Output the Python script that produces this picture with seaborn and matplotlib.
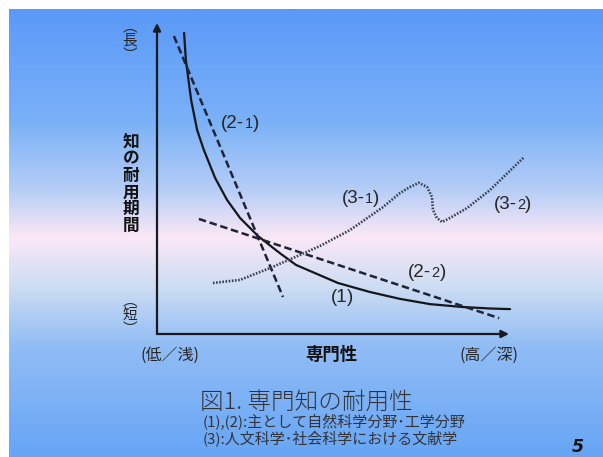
import numpy as np
import matplotlib
matplotlib.use("Agg")
import matplotlib.pyplot as plt
from matplotlib.colors import LinearSegmentedColormap
from matplotlib.offsetbox import TextArea, HPacker, AnnotationBbox
import seaborn as sns

sns.set_theme(style="white")
plt.rcParams["font.family"] = ["Noto Sans CJK JP", "DejaVu Sans"]

# (1) durability of knowledge vs. specialisation (solid curve)
curve1_x = [0.77, 0.82, 0.97, 1.14, 1.33, 1.65, 1.99, 2.36, 2.87, 3.49, 3.95,
            5.14, 6.05, 6.90, 7.76, 8.66, 9.46, 10.03]
curve1_y = [9.68, 8.81, 7.52, 6.56, 5.92, 5.02, 4.31, 3.73, 3.15, 2.60, 2.22,
            1.64, 1.35, 1.13, 0.96, 0.87, 0.82, 0.80]

# (2-1), (2-2) straight dashed approximations
line21_x = [0.48, 3.58]
line21_y = [9.58, 1.19]
line22_x = [1.19, 9.72]
line22_y = [3.70, 0.51]

# (3) humanities / social sciences (dotted curve)
curve3_x = [1.59, 2.36, 3.21, 4.06, 4.63, 5.48, 6.42, 6.90, 7.19, 7.44, 7.67,
            7.81, 7.84, 7.95, 8.10, 8.32, 8.81, 9.46, 10.11, 10.43]
curve3_y = [1.64, 1.74, 2.12, 2.54, 2.83, 3.34, 4.08, 4.53, 4.73, 4.86, 4.73,
            4.41, 3.99, 3.73, 3.60, 3.73, 4.05, 4.63, 5.34, 5.69]

# curve labels: (main text, small suffix, closing text, x, y)
curve_labels = [
    ("(2-", "1", ")", 2.36, 6.78),
    ("(3-", "1", ")", 5.77, 4.37),
    ("(3-", "2", ")", 10.11, 4.15),
    ("(2-", "2", ")", 7.67, 1.99),
    ("(1", "", ")", 5.26, 1.16),
]

y_axis_ends = ["︵\n長\n︶", "︵\n短\n︶"]
y_axis_title = "知\nの\n耐\n用\n期\n間"
x_axis_ends = ["(低／浅)", "(高／深)"]
x_axis_title = "専門性"
fig_title = "図1. 専門知の耐用性"
fig_notes = ["(1),(2):主として自然科学分野･工学分野",
             "(3):人文科学･社会科学における文献学"]
page_no = "5"

W, H = 603, 457
fig = plt.figure(figsize=(W / 100, H / 100), dpi=100)
fig.patch.set_facecolor("white")


def fx(x):
    return x / W


def fy(y):
    return 1 - y / H


# slide background gradient (blue - pale pink - blue)
bg = fig.add_axes([fx(9), 0, 1 - fx(9), 1 - 9 / H])
stops = [(0.00, (90, 153, 248)), (0.25, (122, 177, 247)),
         (0.40, (180, 205, 246)), (0.51, (251, 232, 247)),
         (0.62, (205, 221, 243)), (0.75, (146, 189, 245)),
         (1.00, (102, 165, 246))]
cmap = LinearSegmentedColormap.from_list(
    "slide", [(p, tuple(c / 255 for c in rgb)) for p, rgb in stops])
grad = np.linspace(0, 1, 512).reshape(-1, 1)
bg.imshow(grad, aspect="auto", cmap=cmap, extent=[0, 1, 0, 1],
          origin="upper", interpolation="bilinear")
bg.set_axis_off()

# plotting area: origin at (157, 334) px, unit 35.2 px in x, 31.1 px in y
x0, y0, ux, uy = 157, 334, 35.2, 31.1
xmax, ymax = 11.0, 10.3
ax = fig.add_axes([fx(x0), 1 - y0 / H, xmax * ux / W, ymax * uy / H])
ax.set_xlim(0, xmax)
ax.set_ylim(0, ymax)
ax.set_axis_off()
ax.patch.set_alpha(0)

axis_col = "#1a1a22"
for end in [(10, 0), (0, 10)]:
    ax.annotate("", xy=end, xytext=(0, 0), xycoords="data",
                arrowprops=dict(arrowstyle="-|>", lw=1.6, color=axis_col,
                                mutation_scale=11, shrinkA=0, shrinkB=0),
                annotation_clip=False)

sns.lineplot(x=curve1_x, y=curve1_y, ax=ax, sort=False, estimator=None,
             color="#15151c", lw=1.6)
sns.lineplot(x=line21_x, y=line21_y, ax=ax, sort=False, estimator=None,
             color="#1e2436", lw=1.8, linestyle=(0, (3.0, 1.5)))
sns.lineplot(x=line22_x, y=line22_y, ax=ax, sort=False, estimator=None,
             color="#1e2436", lw=1.8, linestyle=(0, (3.0, 1.5)))
sns.lineplot(x=curve3_x, y=curve3_y, ax=ax, sort=False, estimator=None,
             color="#363e4e", lw=1.9, linestyle=(0, (0.6, 0.6)))
for line in ax.lines:
    line.set_clip_on(False)

lab_col = "#262626"
lab_font = ["Liberation Sans", "DejaVu Sans"]
for main, small, close, lx, ly in curve_labels:
    parts = [TextArea(main, textprops=dict(size=13.5, color=lab_col,
                                           family=lab_font))]
    if small:
        parts.append(TextArea(small, textprops=dict(size=10.5, color=lab_col,
                                                    family=lab_font)))
    parts.append(TextArea(close, textprops=dict(size=13.5, color=lab_col,
                                                family=lab_font)))
    box = HPacker(children=parts, align="baseline", pad=0, sep=0)
    ab = AnnotationBbox(box, (lx, ly), xycoords="data", frameon=False,
                        box_alignment=(0.5, 0.5), annotation_clip=False)
    ax.add_artist(ab)

# axis annotations
fig.text(fx(130), fy(41), y_axis_ends[0], ha="center", va="center",
         fontsize=10.5, linespacing=1.0, color=lab_col)
fig.text(fx(130), fy(315), y_axis_ends[1], ha="center", va="center",
         fontsize=10.5, linespacing=1.0, color=lab_col)
fig.text(fx(131), fy(184), y_axis_title, ha="center", va="center",
         fontsize=12, linespacing=0.92, fontweight="bold", color="#111111")
fig.text(fx(170), fy(355), x_axis_ends[0], ha="center", va="center",
         fontsize=11.5, color=lab_col)
fig.text(fx(489), fy(355), x_axis_ends[1], ha="center", va="center",
         fontsize=11.5, color=lab_col)
fig.text(fx(331), fy(355), x_axis_title, ha="center", va="center",
         fontsize=12.5, fontweight="bold", color="#111111")

# caption
fig.text(fx(306), fy(402), fig_title, ha="center", va="center",
         fontsize=17, color="#333338", fontweight="light")
fig.text(fx(203), fy(422), fig_notes[0], ha="left", va="center",
         fontsize=10.8, color="#333338")
fig.text(fx(203), fy(438), fig_notes[1], ha="left", va="center",
         fontsize=10.8, color="#333338")
fig.text(fx(578), fy(447), page_no, ha="center", va="center",
         fontsize=12.5, style="italic", fontweight="bold", color="#111111",
         family=["DejaVu Sans"])

fig.savefig("out.png", dpi=100)
